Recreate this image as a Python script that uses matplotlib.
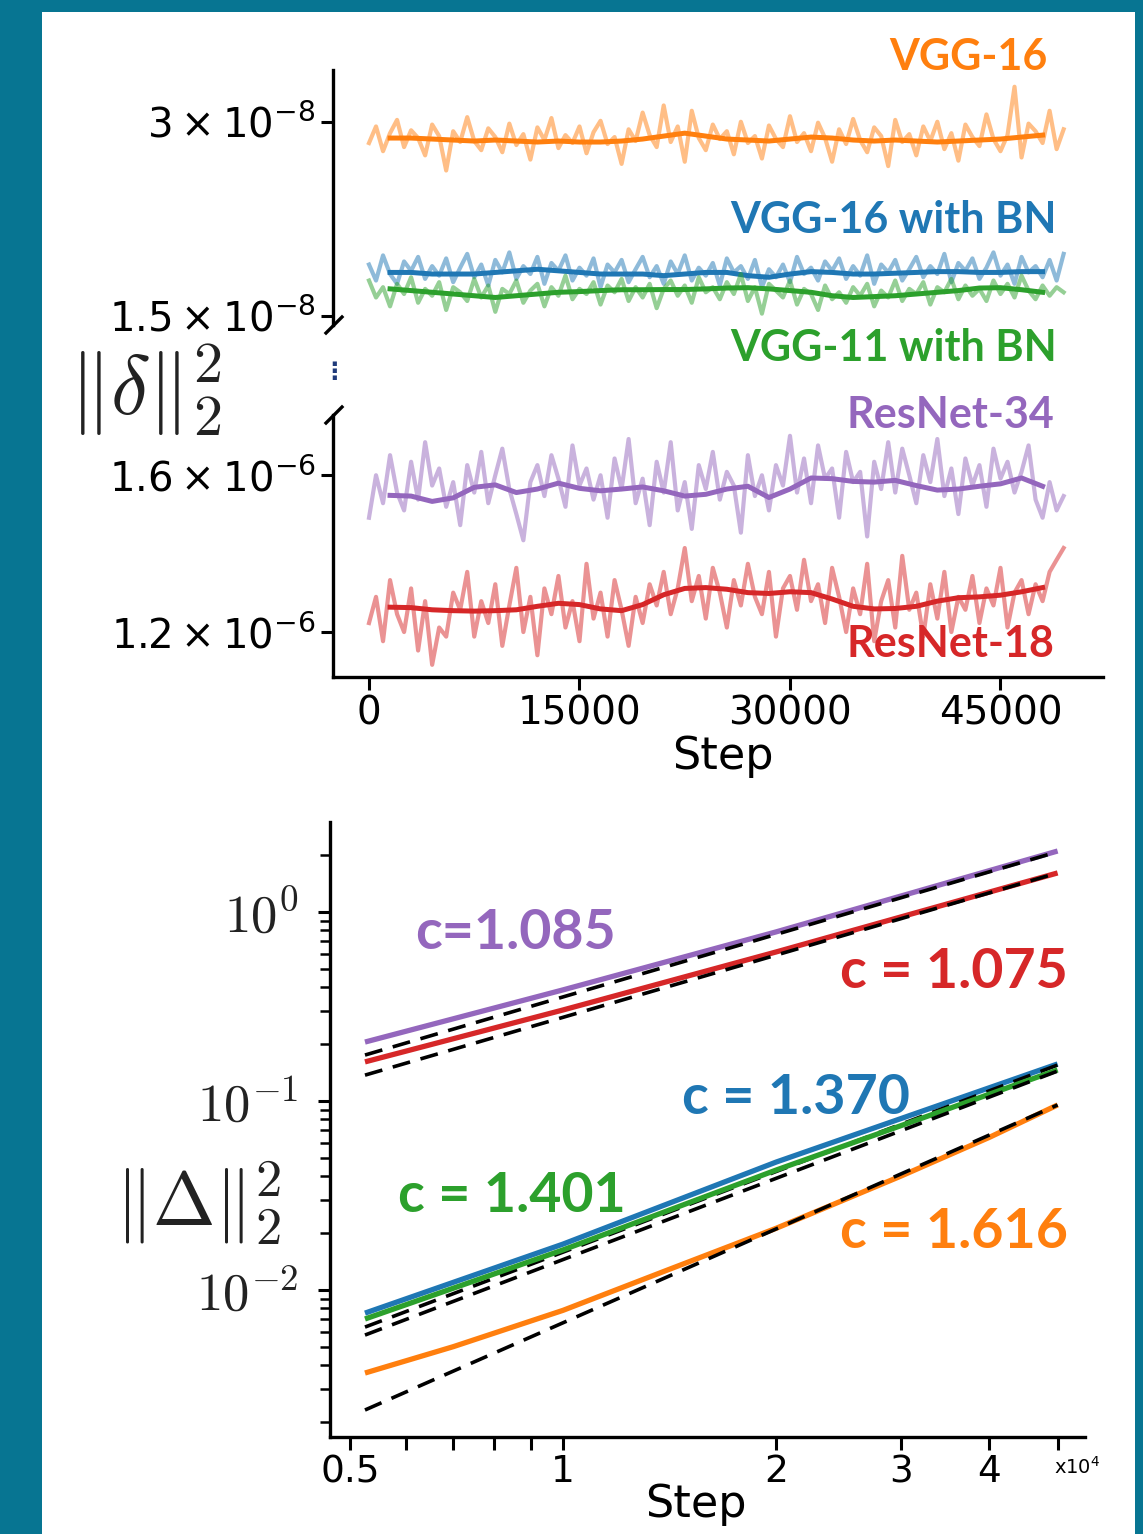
import numpy as np
import matplotlib
matplotlib.use("Agg")
import matplotlib.pyplot as plt
from matplotlib.lines import Line2D
from matplotlib.patches import Rectangle

W, H = 1143, 1534

# ---------------- data: top panel (noisy ||delta||^2 per step) ----------------
raw_steps = np.arange(0, 50000, 500)
smooth_steps = np.arange(1500, 48001, 1500)

# values in units of 1e-8
vgg16_raw = [2.78, 2.95, 2.70, 2.88, 3.02, 2.74, 2.91, 2.83, 2.66, 2.97,
             2.85, 2.52, 2.90, 2.79, 3.05, 2.80, 2.71, 2.93, 2.84, 2.69,
             2.98, 2.76, 2.87, 2.62, 2.94, 2.81, 3.04, 2.73, 2.86, 2.78,
             2.95, 2.68, 2.89, 3.01, 2.77, 2.84, 2.58, 2.92, 2.80, 3.10,
             2.86, 2.74, 3.18, 2.79, 2.95, 2.60, 3.12, 2.83, 2.71, 2.97,
             2.82, 2.90, 2.67, 3.00, 2.78, 2.85, 2.63, 2.96, 2.82, 2.74,
             3.06, 2.79, 2.88, 2.70, 2.99, 2.83, 2.60, 2.92, 2.77, 3.03,
             2.81, 2.69, 2.94, 2.85, 2.56, 3.02, 2.79, 2.87, 2.66, 2.95,
             2.80, 3.00, 2.72, 2.88, 2.61, 2.97, 2.84, 2.75, 3.08, 2.82,
             2.70, 2.86, 3.40, 2.64, 2.98, 2.90, 2.78, 3.12, 2.72, 2.92]
vgg16_smooth = [2.83, 2.83, 2.82, 2.81, 2.80, 2.81, 2.80, 2.79, 2.80, 2.79,
                2.79, 2.80, 2.82, 2.85, 2.88, 2.85, 2.82, 2.81, 2.80, 2.82,
                2.84, 2.83, 2.81, 2.80, 2.81, 2.80, 2.79, 2.80, 2.81, 2.82,
                2.84, 2.86]

vgg16bn_raw = [1.80, 1.70, 1.86, 1.74, 1.68, 1.82, 1.76, 1.85, 1.71, 1.79,
               1.73, 1.84, 1.69, 1.78, 1.87, 1.72, 1.80, 1.67, 1.83, 1.75,
               1.88, 1.71, 1.79, 1.74, 1.85, 1.68, 1.81, 1.76, 1.86, 1.70,
               1.78, 1.73, 1.84, 1.66, 1.80, 1.75, 1.83, 1.69, 1.77, 1.85,
               1.72, 1.79, 1.68, 1.82, 1.74, 1.86, 1.70, 1.78, 1.73, 1.81,
               1.67, 1.84, 1.75, 1.79, 1.71, 1.83, 1.66, 1.77, 1.72, 1.80,
               1.69, 1.85, 1.74, 1.78, 1.70, 1.82, 1.76, 1.84, 1.71, 1.79,
               1.73, 1.86, 1.68, 1.80, 1.75, 1.83, 1.70, 1.77, 1.85, 1.72,
               1.79, 1.74, 1.87, 1.69, 1.81, 1.76, 1.84, 1.71, 1.78, 1.88,
               1.73, 1.80, 1.68, 1.85, 1.75, 1.79, 1.72, 1.83, 1.70, 1.87]
vgg16bn_smooth = [1.75, 1.75, 1.74, 1.74, 1.74, 1.75, 1.76, 1.77, 1.76, 1.75,
                  1.74, 1.74, 1.74, 1.73, 1.74, 1.75, 1.75, 1.73, 1.72, 1.74,
                  1.755, 1.75, 1.74, 1.74, 1.745, 1.75, 1.755, 1.755, 1.75, 1.75,
                  1.755, 1.755]

vgg11bn_raw = [1.70, 1.60, 1.66, 1.55, 1.68, 1.62, 1.72, 1.57, 1.65, 1.61,
               1.69, 1.53, 1.66, 1.63, 1.58, 1.71, 1.60, 1.67, 1.52, 1.65,
               1.62, 1.70, 1.57, 1.64, 1.68, 1.55, 1.66, 1.61, 1.73, 1.59,
               1.65, 1.62, 1.69, 1.56, 1.67, 1.63, 1.71, 1.58, 1.66, 1.60,
               1.68, 1.54, 1.65, 1.70, 1.61, 1.67, 1.57, 1.72, 1.63, 1.66,
               1.59, 1.69, 1.62, 1.74, 1.58, 1.66, 1.51, 1.68, 1.64, 1.60,
               1.70, 1.56, 1.65, 1.62, 1.53, 1.67, 1.59, 1.63, 1.57, 1.66,
               1.61, 1.68, 1.55, 1.64, 1.60, 1.70, 1.58, 1.65, 1.62, 1.69,
               1.56, 1.66, 1.63, 1.71, 1.59, 1.67, 1.61, 1.65, 1.58, 1.70,
               1.62, 1.68, 1.60, 1.73, 1.64, 1.59, 1.67, 1.61, 1.66, 1.63]
vgg11bn_smooth = [1.65, 1.64, 1.63, 1.62, 1.61, 1.60, 1.61, 1.62, 1.63, 1.634,
                  1.64, 1.645, 1.645, 1.646, 1.646, 1.65, 1.655, 1.657, 1.65, 1.64,
                  1.63, 1.61, 1.60, 1.605, 1.61, 1.62, 1.63, 1.64, 1.655, 1.657,
                  1.645, 1.63]

# values in units of 1e-6
resnet34_raw = [1.48, 1.60, 1.52, 1.66, 1.55, 1.50, 1.64, 1.53, 1.70, 1.57,
                1.62, 1.51, 1.58, 1.46, 1.63, 1.55, 1.67, 1.52, 1.60, 1.68,
                1.56, 1.49, 1.42, 1.58, 1.63, 1.54, 1.66, 1.59, 1.51, 1.69,
                1.57, 1.62, 1.53, 1.60, 1.48, 1.65, 1.56, 1.71, 1.52, 1.59,
                1.46, 1.64, 1.55, 1.70, 1.50, 1.58, 1.45, 1.63, 1.56, 1.67,
                1.53, 1.61, 1.57, 1.44, 1.66, 1.54, 1.60, 1.50, 1.63, 1.57,
                1.72, 1.55, 1.65, 1.52, 1.69, 1.59, 1.62, 1.48, 1.67, 1.58,
                1.61, 1.43, 1.64, 1.56, 1.70, 1.55, 1.68, 1.60, 1.52, 1.66,
                1.58, 1.71, 1.54, 1.62, 1.49, 1.65, 1.57, 1.63, 1.51, 1.68,
                1.59, 1.64, 1.55, 1.61, 1.69, 1.53, 1.48, 1.58, 1.50, 1.54]
resnet34_smooth = [1.542, 1.540, 1.525, 1.535, 1.565, 1.572, 1.550, 1.560, 1.577, 1.562,
                   1.555, 1.560, 1.566, 1.555, 1.540, 1.545, 1.560, 1.568, 1.536, 1.560,
                   1.592, 1.590, 1.582, 1.580, 1.585, 1.570, 1.557, 1.560, 1.568, 1.575,
                   1.592, 1.568]

resnet18_raw = [1.22, 1.28, 1.18, 1.32, 1.24, 1.20, 1.30, 1.16, 1.27, 1.13,
                1.21, 1.19, 1.29, 1.25, 1.34, 1.19, 1.27, 1.22, 1.31, 1.17,
                1.26, 1.35, 1.20, 1.28, 1.15, 1.30, 1.24, 1.33, 1.21, 1.27,
                1.18, 1.36, 1.23, 1.29, 1.19, 1.32, 1.25, 1.17, 1.28, 1.22,
                1.31, 1.26, 1.34, 1.24, 1.30, 1.40, 1.27, 1.33, 1.23, 1.35,
                1.29, 1.21, 1.32, 1.26, 1.36, 1.28, 1.24, 1.34, 1.19, 1.30,
                1.33, 1.25, 1.37, 1.27, 1.31, 1.22, 1.35, 1.28, 1.20, 1.30,
                1.24, 1.36, 1.18, 1.27, 1.32, 1.21, 1.38, 1.25, 1.29, 1.19,
                1.31, 1.23, 1.34, 1.20, 1.28, 1.25, 1.33, 1.22, 1.30, 1.26,
                1.35, 1.21, 1.29, 1.32, 1.24, 1.31, 1.27, 1.34, 1.37, 1.40]
resnet18_smooth = [1.256, 1.255, 1.250, 1.248, 1.247, 1.248, 1.250, 1.258, 1.265, 1.262,
                   1.252, 1.248, 1.262, 1.285, 1.300, 1.302, 1.298, 1.290, 1.288, 1.292,
                   1.290, 1.275, 1.258, 1.252, 1.253, 1.258, 1.270, 1.278, 1.280, 1.284,
                   1.292, 1.302]

# ---------------- data: bottom panel (||Delta||^2 vs step, log-log) ----------------
resnet34_steps = [5250, 10000, 20000, 50000]
resnet34_delta = [0.205, 0.387, 0.784, 2.10]
resnet18_steps = [5250, 10000, 20000, 50000]
resnet18_delta = [0.161, 0.303, 0.614, 1.608]
vgg16bn_steps = [5250, 10000, 20000, 50000]
vgg16bn_delta = [0.00755, 0.0175, 0.0475, 0.157]
vgg11bn_steps = [5250, 10000, 20000, 50000]
vgg11bn_delta = [0.00703, 0.0163, 0.0431, 0.146]
vgg16_steps = [5250, 7000, 10000, 14000, 20000, 30000, 40000, 50000]
vgg16_delta = [0.00364, 0.00502, 0.00781, 0.0127, 0.0212, 0.040, 0.0641, 0.0953]

# power-law fit lines (end points)
fit_steps = [5250, 50000]
fit_resnet34 = [0.175, 2.08]
fit_resnet18 = [0.137, 1.608]
fit_vgg16bn = [0.00637, 0.155]
fit_vgg11bn = [0.00578, 0.144]
fit_vgg16 = [0.00232, 0.0953]

c_labels = ["c=1.085", "c = 1.075", "c = 1.370", "c = 1.401", "c = 1.616"]

C_ORANGE, C_BLUE, C_GREEN = "#ff7f0e", "#1f77b4", "#2ca02c"
C_RED, C_PURPLE = "#d62728", "#9467bd"


def fx(px):
    return px / W


def fy(py):
    return 1 - py / H


fig = plt.figure(figsize=(W / 100, H / 100), dpi=100, facecolor="#077592")
fig.patches.append(Rectangle((fx(42), 0), fx(1135) - fx(42), fy(12),
                             transform=fig.transFigure, facecolor="white",
                             edgecolor="none", zorder=-10))

ax_up = fig.add_axes([fx(333), fy(325), fx(1103) - fx(333), fy(70) - fy(325)])
ax_lo = fig.add_axes([fx(333), fy(677), fx(1103) - fx(333), fy(415) - fy(677)])
ax_b = fig.add_axes([fx(330), fy(1437), fx(1085) - fx(330), fy(822) - fy(1437)])

for ax in (ax_up, ax_lo, ax_b):
    ax.set_facecolor("none")
    for s in ("top", "right"):
        ax.spines[s].set_visible(False)
    for s in ("left", "bottom"):
        ax.spines[s].set_linewidth(2.4)
ax_up.spines["bottom"].set_visible(False)

# top panel curves
for ax, raw, sm, col, scale in [
    (ax_up, vgg16_raw, vgg16_smooth, C_ORANGE, 1e-8),
    (ax_up, vgg16bn_raw, vgg16bn_smooth, C_BLUE, 1e-8),
    (ax_up, vgg11bn_raw, vgg11bn_smooth, C_GREEN, 1e-8),
    (ax_lo, resnet34_raw, resnet34_smooth, C_PURPLE, 1e-6),
    (ax_lo, resnet18_raw, resnet18_smooth, C_RED, 1e-6),
]:
    ax.plot(raw_steps, np.array(raw) * scale, color=col, alpha=0.5, lw=3.0)
    ax.plot(smooth_steps, np.array(sm) * scale, color=col, lw=3.6)

for ax in (ax_up, ax_lo):
    ax.set_yscale("log")
    ax.set_xlim(-2565, 52305)
    ax.yaxis.set_minor_locator(plt.NullLocator())
    ax.tick_params(axis="both", length=9, width=2.2, labelsize=29)

ax_up.set_ylim(1.45e-8, 3.61e-8)
ax_up.set_yticks([1.5e-8, 3e-8])
ax_up.set_yticklabels([r"$1.5\times10^{-8}$", r"$3\times10^{-8}$"])
ax_up.set_xticks([])

ax_lo.set_ylim(1.105e-6, 1.787e-6)
ax_lo.set_yticks([1.2e-6, 1.6e-6])
ax_lo.set_yticklabels([r"$1.2\times10^{-6}$", r"$1.6\times10^{-6}$"])
ax_lo.set_xticks([0, 15000, 30000, 45000])
ax_lo.set_xticklabels(["0", "15000", "30000", "45000"], fontsize=28)

# axis break marks
for (x0, y0, x1, y1) in [(326, 333, 342, 317), (326, 423, 342, 407)]:
    fig.lines.append(Line2D([fx(x0), fx(x1)], [fy(y0), fy(y1)], color="black",
                            lw=2.4, transform=fig.transFigure))
fig.text(fx(334), fy(372), "\u22ee", color="#1f3a7a", fontsize=17,
         fontweight="bold", ha="center", va="center")

fig.text(fx(723), fy(757), "Step", fontsize=32, ha="center", va="center")
fig.text(fx(145), fy(390), r"$\|\delta\|_2^2$", fontsize=60, ha="center",
         va="center", math_fontfamily="cm", color="#222222")

name_font = dict(family="Lato", weight="bold", fontsize=31, ha="right", va="center")
fig.text(fx(1047), fy(57), "VGG-16", color=C_ORANGE, **name_font)
fig.text(fx(1057), fy(220), "VGG-16 with BN", color=C_BLUE, **name_font)
fig.text(fx(1057), fy(348), "VGG-11 with BN", color=C_GREEN, **name_font)
fig.text(fx(1054), fy(415), "ResNet-34", color=C_PURPLE, **name_font)
fig.text(fx(1054), fy(644), "ResNet-18", color=C_RED, **name_font)

# bottom panel
for st, d, fit, col in [
    (resnet34_steps, resnet34_delta, fit_resnet34, C_PURPLE),
    (resnet18_steps, resnet18_delta, fit_resnet18, C_RED),
    (vgg16bn_steps, vgg16bn_delta, fit_vgg16bn, C_BLUE),
    (vgg11bn_steps, vgg11bn_delta, fit_vgg11bn, C_GREEN),
    (vgg16_steps, vgg16_delta, fit_vgg16, C_ORANGE),
]:
    ax_b.plot(st, d, color=col, lw=3.8, solid_capstyle="butt")
    ax_b.plot(fit_steps, fit, color="black", lw=2.6, dashes=(5, 3))

ax_b.set_xscale("log")
ax_b.set_yscale("log")
ax_b.set_xlim(4685, 54660)
ax_b.set_ylim(0.00167, 2.99)
xt = [5000, 6000, 7000, 8000, 9000, 10000, 20000, 30000, 40000, 50000]
ax_b.set_xticks(xt)
ax_b.set_xticklabels(["0.5", "", "", "", "", "1", "2", "3", "4", ""], fontsize=27)
ax_b.xaxis.set_minor_locator(plt.NullLocator())
ax_b.set_yticks([0.01, 0.1, 1])
ax_b.set_yticklabels([r"$10^{-2}$", r"$10^{-1}$", r"$10^{0}$"], fontsize=38)
for lab in ax_b.get_yticklabels():
    lab.set_math_fontfamily("cm")
    lab.set_color("#222222")
ax_b.tick_params(axis="both", which="major", length=9, width=2.2)
ax_b.tick_params(axis="y", which="major", pad=14)
ax_b.tick_params(axis="y", which="minor", length=7, width=1.8)

fig.text(fx(1077), fy(1467), r"x10$^4$", fontsize=14, ha="center", va="center")
fig.text(fx(696), fy(1505), "Step", fontsize=32, ha="center", va="center")
fig.text(fx(198), fy(1203), r"$\|\Delta\|_2^2$", fontsize=54, ha="center",
         va="center", math_fontfamily="cm", color="#222222")

c_font = dict(family="Lato", weight="bold", fontsize=40, va="center")
fig.text(fx(415), fy(933), c_labels[0], color=C_PURPLE, ha="left", **c_font)
fig.text(fx(1068), fy(972), c_labels[1], color=C_RED, ha="right", **c_font)
fig.text(fx(910), fy(1098), c_labels[2], color=C_BLUE, ha="right", **c_font)
fig.text(fx(398), fy(1196), c_labels[3], color=C_GREEN, ha="left", **c_font)
fig.text(fx(1068), fy(1232), c_labels[4], color=C_ORANGE, ha="right", **c_font)

fig.savefig("out.png", dpi=100, facecolor=fig.get_facecolor())
